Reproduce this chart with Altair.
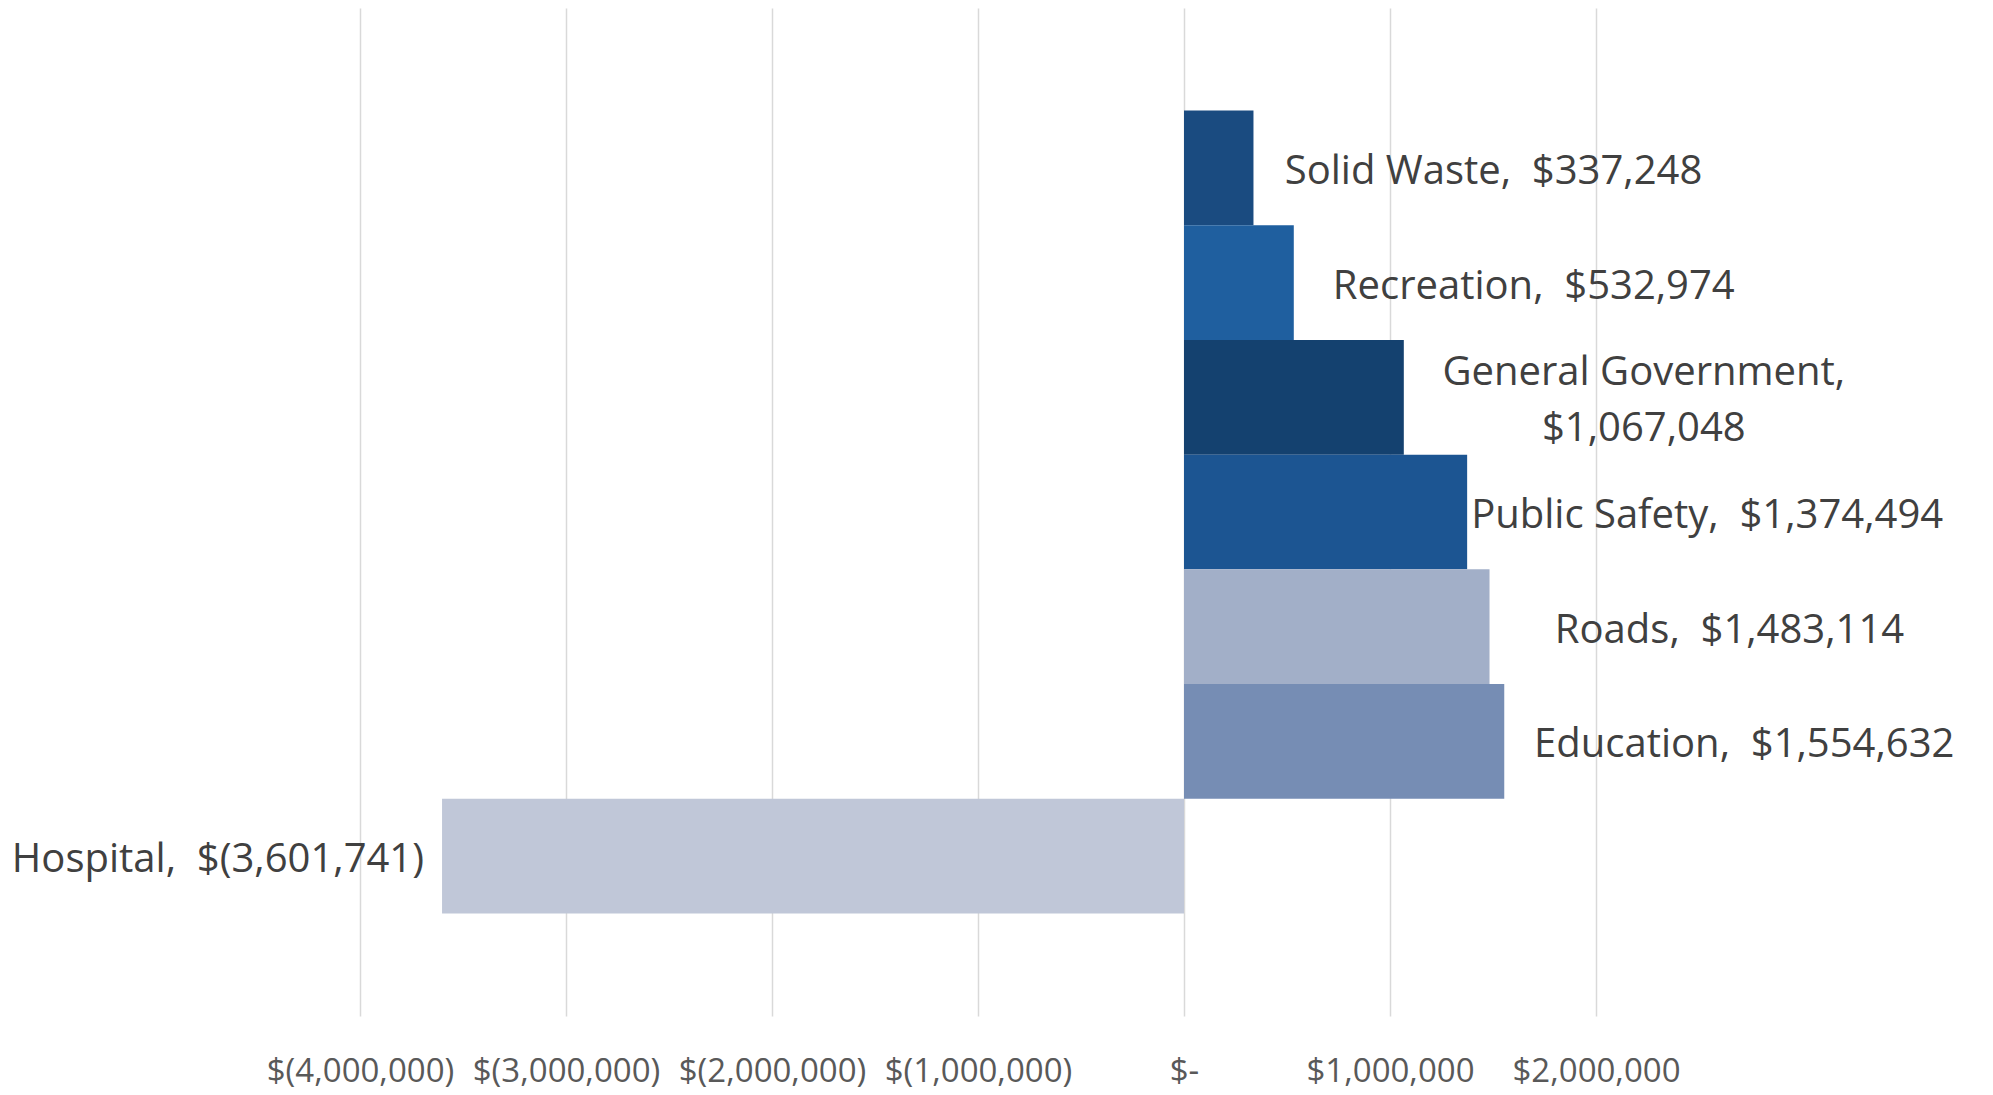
import altair as alt
import pandas as pd

categories = ["Solid Waste", "Recreation", "General Government", "Public Safety",
              "Roads", "Education", "Hospital"]
values = [337248, 532974, 1067048, 1374494, 1483114, 1554632, -3601741]
colors = ["#1a4b80", "#1f5f9f", "#14416f", "#1c5592", "#a2afc8", "#768db4", "#c0c7d8"]
tick_values = [-4000000, -3000000, -2000000, -1000000, 0, 1000000, 2000000]


def money(v):
    if v < 0:
        return "$({:,})".format(-v)
    return "${:,}".format(v)


labels = []
for c, v in zip(categories, values):
    if c == "General Government":
        labels.append(f"{c},\n{money(v)}")
    else:
        labels.append(f"{c},\u00a0 {money(v)}")

df = pd.DataFrame({"category": categories, "value": values, "label": labels})

FONT = "Open Sans"
LABEL_SIZE = 40
LINE_H = 56

y = alt.Y("category:N", sort=categories, axis=None,
          scale=alt.Scale(paddingInner=0, paddingOuter=0.894))
x = alt.X("value:Q",
          scale=alt.Scale(domain=[-4000000, 2000000], nice=False, zero=False),
          axis=alt.Axis(values=tick_values, title=None, domain=False, ticks=False,
                        grid=True, gridColor="#d9d9d9", gridWidth=1.5,
                        labelFont=FONT, labelFontSize=33, labelColor="#595959",
                        labelPadding=39, labelFlush=False, labelLimit=400,
                        labelOverlap=False,
                        labelExpr="datum.value == 0 ? '$-' : (datum.value < 0 ? '$(' + format(-datum.value, ',') + ')' : '$' + format(datum.value, ','))"))

bars = alt.Chart(df).mark_bar().encode(
    x=x,
    x2=alt.datum(0),
    y=y,
    color=alt.Color("category:N", scale=alt.Scale(domain=categories, range=colors), legend=None),
)

ty = alt.Y("category:N", sort=categories)

pos_text = alt.Chart(df).transform_filter(
    "datum.value >= 0 && indexof(datum.label, '\\n') < 0"
).mark_text(
    align="center", baseline="middle", dx=240, dy=4, font=FONT, fontSize=LABEL_SIZE,
    color="#404040"
).encode(x="value:Q", y=ty, text="label:N")

multi_text = alt.Chart(df).transform_filter(
    "datum.value >= 0 && indexof(datum.label, '\\n') >= 0"
).mark_text(
    align="center", baseline="middle", dx=240, dy=4 - LINE_H / 2, font=FONT,
    fontSize=LABEL_SIZE, color="#404040", lineBreak="\n", lineHeight=LINE_H
).encode(x="value:Q", y=ty, text="label:N")

neg_text = alt.Chart(df).transform_filter("datum.value < 0").mark_text(
    align="right", baseline="middle", dx=-18, dy=4, font=FONT, fontSize=LABEL_SIZE,
    color="#404040"
).encode(x="value:Q", y=ty, text="label:N")

chart = alt.layer(bars, pos_text, multi_text, neg_text).properties(
    width=1236, height=1008,
    autosize=alt.AutoSizeParams(type="none"),
    padding={"left": 352, "top": 0, "right": 389, "bottom": 78},
).configure_view(stroke=None)

chart.save("out.html", embed_options={"renderer": "svg", "actions": False})
